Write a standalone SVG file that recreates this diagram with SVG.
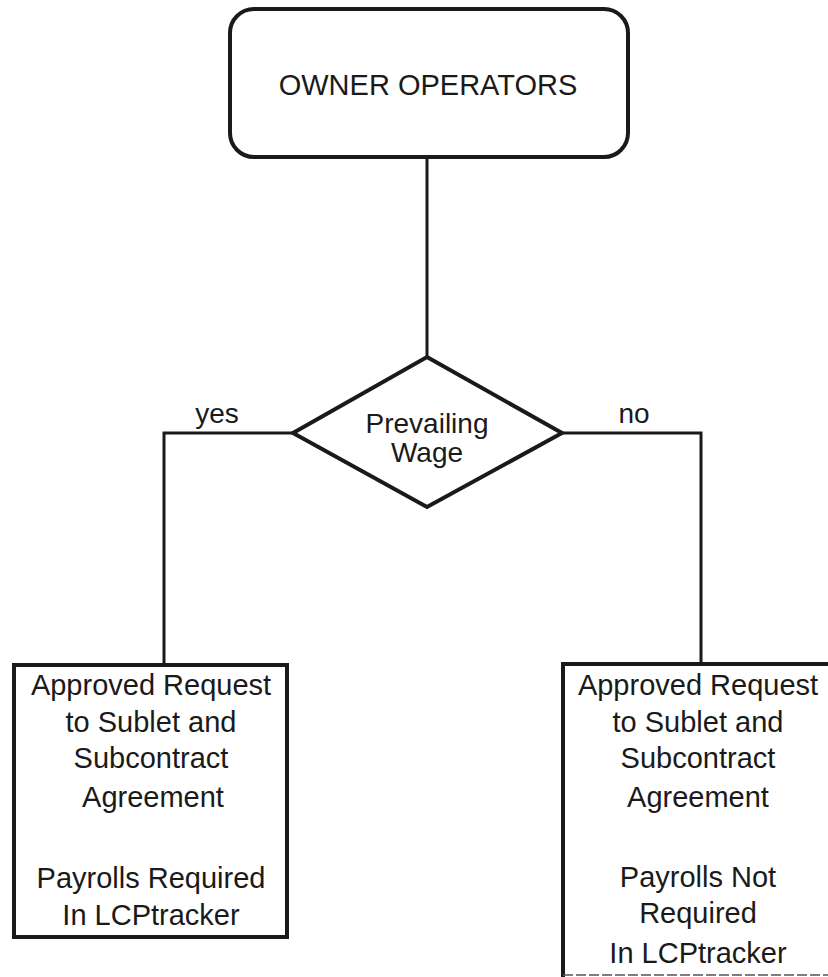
<svg xmlns="http://www.w3.org/2000/svg" width="828" height="977" viewBox="0 0 828 977">
<style>
.t{font-family:"Liberation Sans",Arial,sans-serif;fill:#1a1a1a;text-anchor:middle}
.b{font-size:29px}
.s{font-size:28px}
.shape{fill:#fff;stroke:#1a1a1a;stroke-width:4}
.conn{fill:none;stroke:#1a1a1a;stroke-width:3}
</style>
<rect width="828" height="977" fill="#fff"/>
<g id="connectors">
<line class="conn" x1="427" y1="157" x2="427" y2="357"/>
<polyline class="conn" points="293,433 164,433 164,665"/>
<polyline class="conn" points="562,433 701,433 701,664"/>
</g>
<g id="owner">
<rect class="shape" x="230" y="9" width="398" height="148" rx="24"/>
<text class="t b" x="428" y="95">OWNER OPERATORS</text>
</g>
<g id="decision">
<polygon class="shape" points="427,357 562,433 427,507 293,433"/>
<text class="t s" x="427" y="433">Prevailing</text>
<text class="t s" x="427" y="462">Wage</text>
</g>
<g id="label-yes"><text class="t s" x="217" y="423">yes</text></g>
<g id="label-no"><text class="t s" x="634" y="423">no</text></g>
<g id="left-box">
<rect class="shape" x="14" y="665" width="273" height="272"/>
<text class="t b" x="151" y="695">Approved Request</text>
<text class="t b" x="151" y="732">to Sublet and</text>
<text class="t b" x="151" y="768">Subcontract</text>
<text class="t b" x="153" y="807">Agreement</text>
<text class="t b" x="151" y="888">Payrolls Required</text>
<text class="t b" x="151" y="925">In LCPtracker</text>
</g>
<g id="right-box">
<path d="M832,664 H563 V977" fill="none" stroke="#1a1a1a" stroke-width="4"/>
<line x1="563" y1="975" x2="828" y2="975" stroke="#555" stroke-width="1.5" stroke-dasharray="10,3"/>
<text class="t b" x="698" y="695">Approved Request</text>
<text class="t b" x="698" y="732">to Sublet and</text>
<text class="t b" x="698" y="768">Subcontract</text>
<text class="t b" x="698" y="807">Agreement</text>
<text class="t b" x="698" y="887">Payrolls Not</text>
<text class="t b" x="698" y="923">Required</text>
<text class="t b" x="698" y="963">In LCPtracker</text>
</g>
</svg>
